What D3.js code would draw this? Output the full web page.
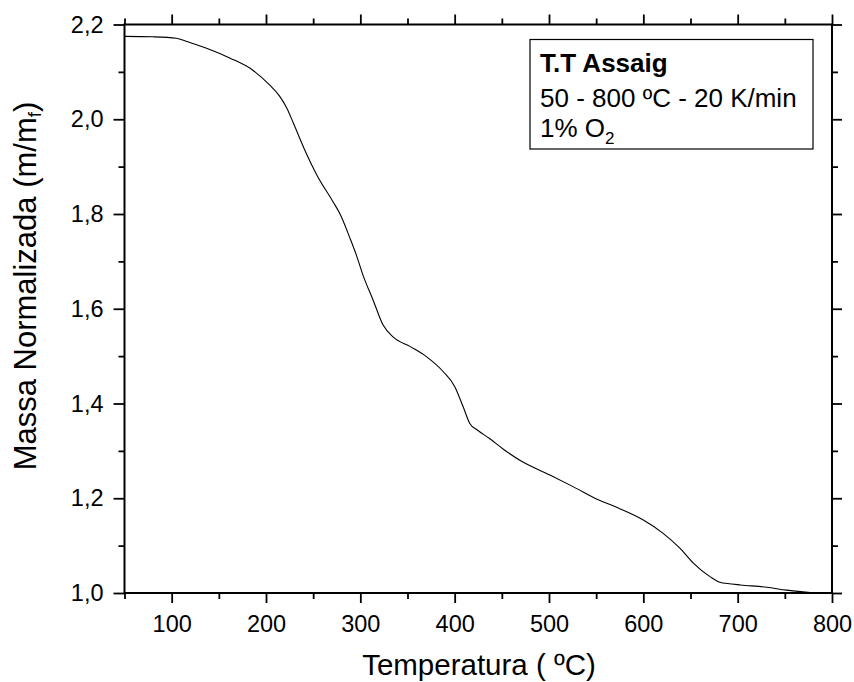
<!DOCTYPE html>
<html><head><meta charset="utf-8">
<script src="https://cdn.jsdelivr.net/npm/d3@7"></script>
<style>body{margin:0;background:#fff}svg{display:block}text{font-family:"Liberation Sans",Arial,sans-serif}</style>
</head><body>
<svg id="c" width="854" height="682"></svg>
<script>
const temps = [50, 80, 105, 116, 137, 162, 185, 204, 214, 222, 229, 240, 254, 271, 279, 289, 296, 303, 314, 324, 335, 353, 370, 388, 400, 409, 416, 424, 437, 452, 470, 501, 526, 551, 575, 600, 621, 639, 653, 671, 682, 689, 703, 731, 752, 767, 788, 800];
const masses = [2.175, 2.174, 2.171, 2.164, 2.150, 2.129, 2.105, 2.072, 2.050, 2.024, 1.992, 1.940, 1.882, 1.826, 1.798, 1.749, 1.712, 1.670, 1.616, 1.566, 1.540, 1.520, 1.499, 1.467, 1.436, 1.393, 1.358, 1.344, 1.326, 1.303, 1.279, 1.249, 1.224, 1.198, 1.178, 1.154, 1.126, 1.094, 1.063, 1.034, 1.022, 1.020, 1.017, 1.012, 1.006, 1.003, 1.000, 1.000];
const xTicks = [100, 200, 300, 400, 500, 600, 700, 800];
const xMinor = [50, 150, 250, 350, 450, 550, 650, 750];
const yTicks = [1.0, 1.2, 1.4, 1.6, 1.8, 2.0, 2.2];
const yMinor = [1.1, 1.3, 1.5, 1.7, 1.9, 2.1];
const legendLines = ["T.T Assaig", "50 - 800 ºC - 20 K/min"];

const svg = d3.select("#c");
const L = 124.5, R = 832, T = 24.5, B = 593;
const x = d3.scaleLinear().domain([50, 800]).range([L, R]);
const y = d3.scaleLinear().domain([1.0, 2.2]).range([B, T]);
const fmt = d => d.toFixed(1).replace(".", ",");
const FF = "Liberation Sans, Arial, sans-serif";

function styleAxis(g){ g.attr("font-family", FF); g.select(".domain").remove(); g.selectAll("line").attr("stroke","#000").attr("stroke-width",1.8); }

// bottom
const gb = svg.append("g").attr("transform",`translate(0,${B})`)
  .call(d3.axisBottom(x).tickValues(xTicks).tickSize(10).tickPadding(12).tickFormat(d3.format("d")));
styleAxis(gb); gb.selectAll("text").attr("font-size",23.5).attr("fill","#000");
const gbm = svg.append("g").attr("transform",`translate(0,${B})`).call(d3.axisBottom(x).tickValues(xMinor).tickSize(6).tickFormat(""));
styleAxis(gbm);
// top
const gt = svg.append("g").attr("transform",`translate(0,${T})`).call(d3.axisTop(x).tickValues(xTicks).tickSize(10).tickFormat(""));
styleAxis(gt);
const gtm = svg.append("g").attr("transform",`translate(0,${T})`).call(d3.axisTop(x).tickValues(xMinor).tickSize(6).tickFormat(""));
styleAxis(gtm);
// left
const gl = svg.append("g").attr("transform",`translate(${L},0)`)
  .call(d3.axisLeft(y).tickValues(yTicks).tickSize(11).tickPadding(10).tickFormat(fmt));
styleAxis(gl); gl.selectAll("text").attr("font-size",23.5).attr("fill","#000");
const glm = svg.append("g").attr("transform",`translate(${L},0)`).call(d3.axisLeft(y).tickValues(yMinor).tickSize(6).tickFormat(""));
styleAxis(glm);
// right
const gr = svg.append("g").attr("transform",`translate(${R},0)`).call(d3.axisRight(y).tickValues(yTicks).tickSize(10).tickFormat(""));
styleAxis(gr);
const grm = svg.append("g").attr("transform",`translate(${R},0)`).call(d3.axisRight(y).tickValues(yMinor).tickSize(6).tickFormat(""));
styleAxis(grm);

// frame
svg.append("rect").attr("x",L).attr("y",T).attr("width",R-L).attr("height",B-T)
  .attr("fill","none").attr("stroke","#000").attr("stroke-width",2);

// curve
const data = temps.map((t,i)=>({t, m:masses[i]}));
svg.append("path").datum(data)
  .attr("fill","none").attr("stroke","#000").attr("stroke-width",1.1)
  .attr("d", d3.line().x(d=>x(d.t)).y(d=>y(d.m)).curve(d3.curveMonotoneX));

// legend box
svg.append("rect").attr("x",530).attr("y",39.5).attr("width",283).attr("height",109.5)
  .attr("fill","#fff").attr("stroke","#000").attr("stroke-width",1.2);
svg.append("text").attr("x",540).attr("y",72).attr("font-size",26).attr("font-weight","bold").text(legendLines[0]);
svg.append("text").attr("x",540).attr("y",107).attr("font-size",26).text(legendLines[1]);
const t3 = svg.append("text").attr("x",540).attr("y",137).attr("font-size",26);
t3.append("tspan").text("1% O");
t3.append("tspan").attr("font-size",17).attr("dy",7).text("2");

// axis titles
svg.append("text").attr("x",479).attr("y",675).attr("text-anchor","middle").attr("font-size",29.5).text("Temperatura ( ºC)");
const yt = svg.append("text").attr("transform","translate(36,286) rotate(-90)").attr("text-anchor","middle").attr("font-size",31);
yt.append("tspan").text("Massa Normalizada (m/m");
yt.append("tspan").attr("font-size",19).attr("dy",5).text("f");
yt.append("tspan").attr("dy",-5).text(")");
</script>
</body></html>
